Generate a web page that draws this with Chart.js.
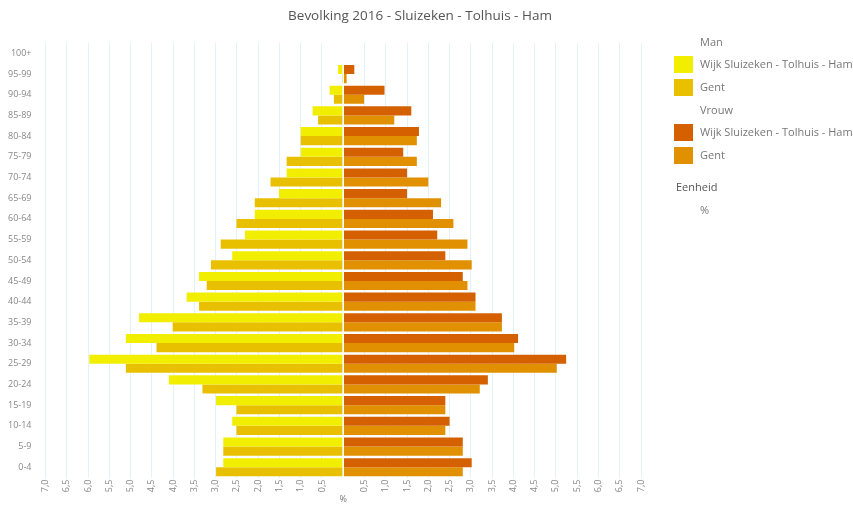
<!DOCTYPE html>
<html>
<head>
<meta charset="utf-8">
<title>Bevolking 2016 - Sluizeken - Tolhuis - Ham</title>
<script src="https://cdn.jsdelivr.net/npm/chart.js@4.4.0/dist/chart.umd.min.js"></script>
<style>
  body { margin: 0; background: #fff; overflow: hidden; font-family: "Open Sans", sans-serif; }
  #wrap { position: relative; width: 853px; height: 505px; }
  #title { position: absolute; top: 6px; left: 0; width: 840px; text-align: center; font-size: 13.5px; color: #555; }
  #legend { position: absolute; left: 674px; top: 0; width: 179px; height: 505px; font-size: 11px; color: #777; white-space: nowrap; overflow: hidden; }
  #legend div { position: absolute; }
  .box { width: 19px; height: 17px; }
</style>
</head>
<body>
<div id="wrap">
  <canvas id="pyramid"></canvas>
  <div id="title">Bevolking 2016 - Sluizeken - Tolhuis - Ham</div>
  <div id="legend"></div>
</div>
<script>
/* Bevolkingspiramide - Chart.js */

// age groups, top to bottom
const ageGroups = ['100+', '95-99', '90-94', '85-89', '80-84', '75-79', '70-74', '65-69', '60-64', '55-59',
  '50-54', '45-49', '40-44', '35-39', '30-34', '25-29', '20-24', '15-19', '10-14', '5-9', '0-4'];

// percentages (men drawn to the left)
const manWijk   = [0, 0.12, 0.32, 0.72, 1.00, 1.00, 1.33, 1.51, 2.08, 2.31, 2.61, 3.39, 3.68, 4.80, 5.11, 5.97, 4.10, 2.99, 2.61, 2.82, 2.82];
const manGent   = [0, 0.03, 0.22, 0.59, 1.00, 1.33, 1.71, 2.08, 2.51, 2.88, 3.11, 3.21, 3.39, 4.01, 4.39, 5.11, 3.31, 2.51, 2.51, 2.82, 2.99];
const vrouwWijk = [0, 0.26, 0.97, 1.60, 1.78, 1.41, 1.50, 1.50, 2.11, 2.21, 2.40, 2.81, 3.11, 3.73, 4.11, 5.24, 3.40, 2.40, 2.50, 2.81, 3.02];
const vrouwGent = [0, 0.08, 0.49, 1.20, 1.73, 1.73, 2.00, 2.30, 2.59, 2.92, 3.02, 2.92, 3.11, 3.73, 4.02, 5.02, 3.21, 2.40, 2.40, 2.81, 2.81];

const axisMax = 7;
const axisStep = 0.5;

const colors = {
  manWijk: '#f2ee00',
  manGent: '#e8c000',
  vrouwWijk: '#d46000',
  vrouwGent: '#e09000'
};

// legend (html, with group headings)
const legendRows = [
  { text: 'Man', top: 34, left: 26 },
  { text: 'Wijk Sluizeken - Tolhuis - Ham', top: 56, left: 26, color: colors.manWijk },
  { text: 'Gent', top: 79, left: 26, color: colors.manGent },
  { text: 'Vrouw', top: 102, left: 26 },
  { text: 'Wijk Sluizeken - Tolhuis - Ham', top: 124, left: 26, color: colors.vrouwWijk },
  { text: 'Gent', top: 147, left: 26, color: colors.vrouwGent },
  { text: 'Eenheid', top: 179, left: 2, dark: true },
  { text: '%', top: 202, left: 26 }
];
const legendEl = document.getElementById('legend');
legendRows.forEach(function (row) {
  if (row.color) {
    const box = document.createElement('div');
    box.className = 'box';
    box.style.left = '0px';
    box.style.top = row.top + 'px';
    box.style.background = row.color;
    legendEl.appendChild(box);
  }
  const label = document.createElement('div');
  label.textContent = row.text;
  label.style.left = row.left + 'px';
  label.style.top = row.top + 'px';
  if (row.dark) label.style.color = '#555';
  legendEl.appendChild(label);
});

// white line at zero over the bars
const zeroLine = {
  id: 'zeroLine',
  afterDatasetsDraw(chart) {
    const x = chart.scales.x.getPixelForValue(0);
    const ctx = chart.ctx;
    ctx.save();
    ctx.strokeStyle = '#ffffff';
    ctx.lineWidth = 1.5;
    ctx.beginPath();
    ctx.moveTo(x, chart.chartArea.top);
    ctx.lineTo(x, chart.chartArea.bottom);
    ctx.stroke();
    ctx.restore();
  }
};

Chart.defaults.font.family = '"Open Sans", sans-serif';
Chart.defaults.color = '#777';

const ctx = document.getElementById('pyramid').getContext('2d');
new Chart(ctx, {
  type: 'bar',
  data: {
    labels: ageGroups,
    datasets: [
      { label: 'Man - Wijk Sluizeken - Tolhuis - Ham', data: manWijk.map(v => -v), backgroundColor: colors.manWijk, stack: 'wijk' },
      { label: 'Man - Gent', data: manGent.map(v => -v), backgroundColor: colors.manGent, stack: 'gent' },
      { label: 'Vrouw - Wijk Sluizeken - Tolhuis - Ham', data: vrouwWijk, backgroundColor: colors.vrouwWijk, stack: 'wijk' },
      { label: 'Vrouw - Gent', data: vrouwGent, backgroundColor: colors.vrouwGent, stack: 'gent' }
    ]
  },
  options: {
    indexAxis: 'y',
    responsive: true,
    maintainAspectRatio: false,
    animation: false,
    categoryPercentage: 0.88,
    barPercentage: 1,
    layout: { padding: { top: 43, right: 212, left: 2, bottom: 0 } },
    plugins: {
      legend: { display: false },
      title: { display: false },
      tooltip: {
        callbacks: {
          label: item => item.dataset.label + ': ' + Math.abs(item.raw).toFixed(2).replace('.', ',') + ' %'
        }
      }
    },
    scales: {
      x: {
        stacked: true,
        min: -axisMax,
        max: axisMax,
        border: { display: false },
        grid: { color: '#e2f1fa', drawTicks: false },
        ticks: {
          stepSize: axisStep,
          autoSkip: false,
          minRotation: 90,
          maxRotation: 90,
          padding: 2,
          font: { size: 9 },
          color: '#888',
          callback: v => v === 0 ? '' : Math.abs(v).toFixed(1).replace('.', ',')
        },
        title: { display: true, text: '%', padding: { top: 0, bottom: 0 }, font: { size: 9 }, color: '#777' }
      },
      y: {
        stacked: true,
        border: { display: false },
        grid: { display: false },
        ticks: { font: { size: 9 }, color: '#888', padding: 6 }
      }
    }
  },
  plugins: [zeroLine]
});
</script>
</body>
</html>
